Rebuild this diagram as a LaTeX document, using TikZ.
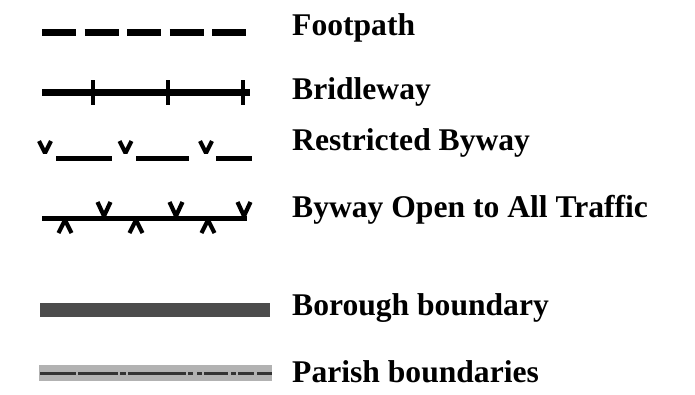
\documentclass[tikz,border=0pt]{standalone}
\usepackage{fontspec}
\setmainfont{Liberation Serif}
\begin{document}
\begin{tikzpicture}[x=1pt,y=-1pt,
  lbl/.style={anchor=base west,inner sep=0pt,font=\fontsize{31.6}{32}\selectfont\bfseries},
  blk/.style={draw=black,line cap=butt},
  vmark/.style={draw=black,line width=4.2pt,line join=bevel},
]
\useasboundingbox (0,0) rectangle (695,394);
% Footpath
\draw[blk,line width=7.5pt,dash pattern=on 34pt off 8.5pt] (42,32.5) -- (246,32.5);
\node[lbl] (t1) at (292,35) {Footpath};
% Bridleway
\draw[blk,line width=7pt] (42,92) -- (250,92);
\foreach \x in {93,168,243} \draw[blk,line width=4.5pt] (\x,80) -- (\x,105);
\node[lbl] (t2) at (292,99) {Bridleway};
% Restricted Byway
\foreach \a/\b in {56/112,136/189,216/252} \draw[blk,line width=5pt] (\a,158) -- (\b,158);
\foreach \x in {45,125.5,206} \draw[vmark] (\x-6,141) -- (\x,153) -- (\x+6,141);
\node[lbl] (t3) at (292,150) {Restricted Byway};
% Byway Open to All Traffic
\draw[blk,line width=5pt] (42,218) -- (247,218);
\foreach \x in {104,176,244} \draw[vmark] (\x-6.5,202) -- (\x,216) -- (\x+6.5,202);
\foreach \x in {65,136,208} \draw[vmark] (\x-6.5,233) -- (\x,220) -- (\x+6.5,233);
\node[lbl] (t4) at (292,217) {Byway Open to All Traffic};
% Borough boundary
\fill[black!70] (40,303) rectangle (270,317);
\node[lbl] (t5) at (292,315) {Borough boundary};
% Parish boundaries
\fill[black!30] (39,364.5) rectangle (272,380.5);
\foreach \a/\b in {40/76,78/118,120/126,128/186,188/193,197/202,204/228,231/236,238/254,257/272}
  \draw[draw=black!80,line width=3pt] (\a,373) -- (\b,373);
\node[lbl] (t6) at (292,382) {Parish boundaries};
\end{tikzpicture}
\end{document}
